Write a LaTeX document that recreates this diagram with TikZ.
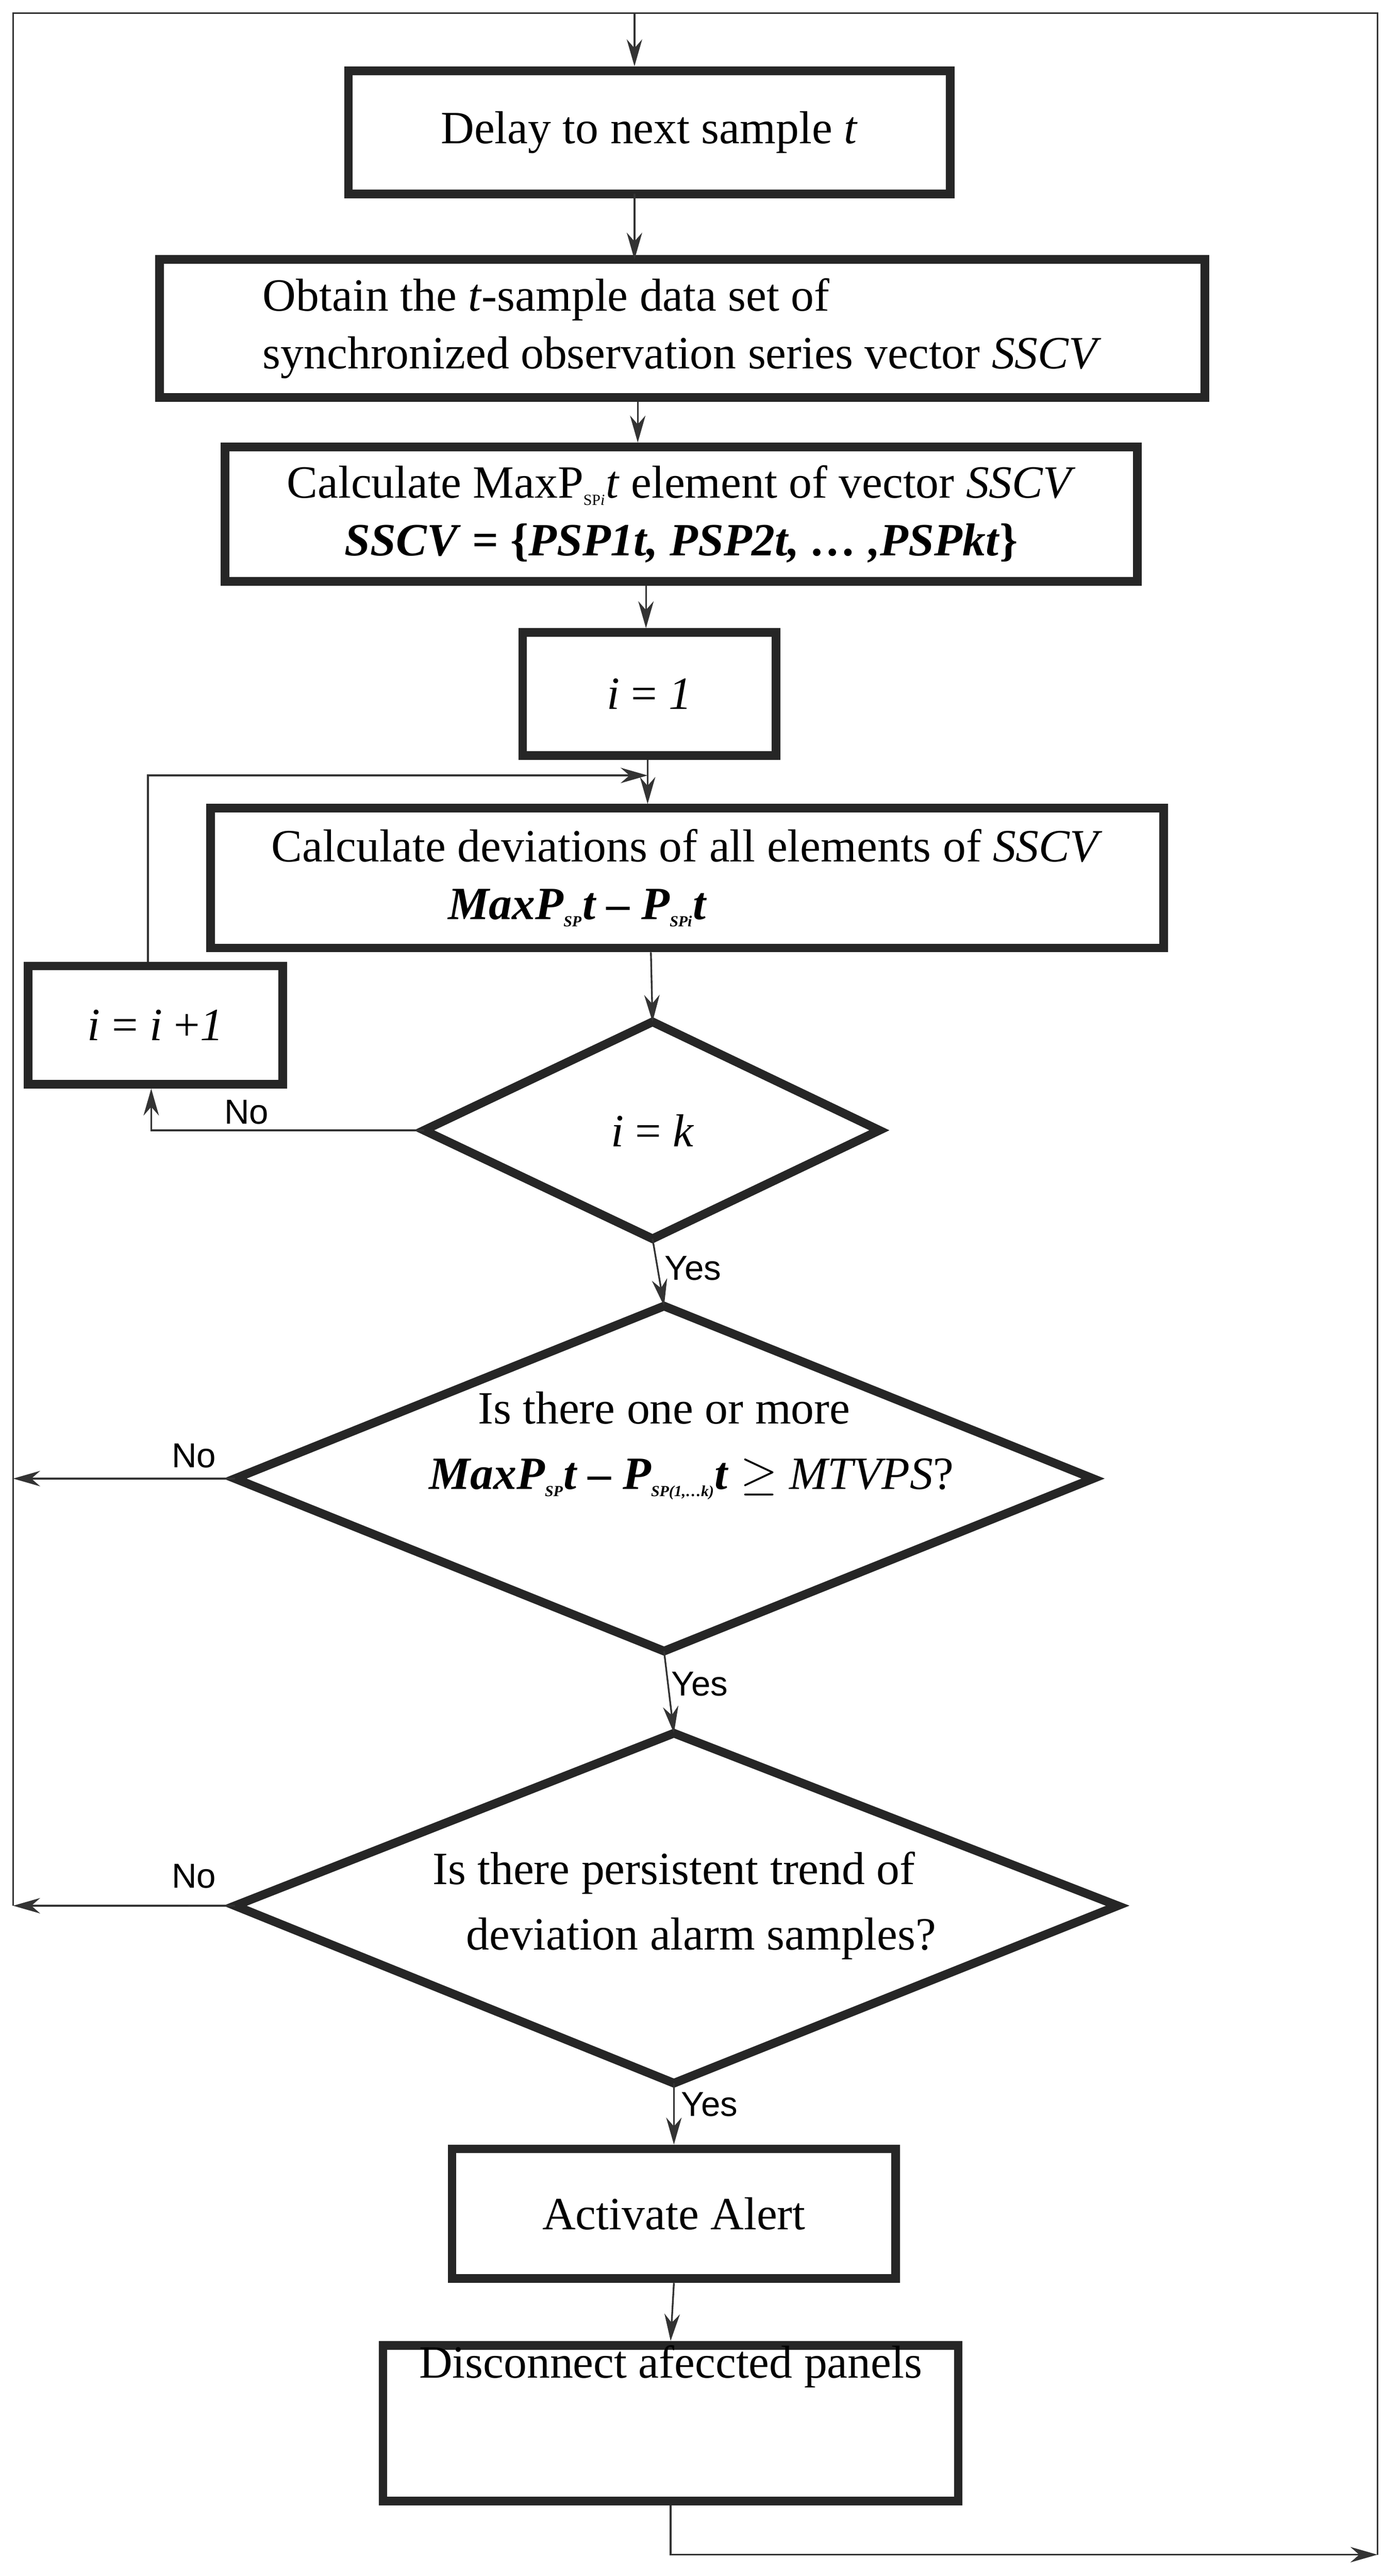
\documentclass[tikz,border=0pt]{standalone}
\usepackage{fontspec}
\setmainfont{Liberation Serif}
\newfontfamily\sff{Liberation Sans}
\usetikzlibrary{arrows.meta}
\newcommand{\mysub}[1]{\textsubscript{\footnotesize #1}}
\begin{document}
\begin{tikzpicture}[x=0.03cm,y=-0.03cm,
  box/.style={draw=black!85,line width=4.5pt,minimum width=#1,inner sep=0pt,font=\fontsize{24}{30}\selectfont,align=center},
  dia/.style={draw=black!85,line width=4.5pt,line join=miter},
  txt/.style={font=\fontsize{24}{34}\selectfont,align=center,inner sep=0pt},
  lab/.style={font=\sff\fontsize{18}{20}\selectfont,inner sep=1pt},
  con/.style={line width=0.9pt,draw=black!80},
  arr/.style={con,-{Stealth[length=14pt,width=8pt]}}]
\useasboundingbox (0,0) rectangle (842,1568);
% boxes
\node[box=366*0.03cm,minimum height=75*0.03cm] (b1) at (395,80.5) {Delay to next sample \textit{t}};
\node[box=636*0.03cm,minimum height=84*0.03cm,align=left] (b2) at (415,200) {Obtain the \textit{t}-sample data set of\\synchronized observation series vector \textit{SSCV}};
\node[box=555*0.03cm,minimum height=82*0.03cm] (b3) at (414.5,313) {Calculate MaxP\mysub{SP\textit{i}}\textit{t} element of vector \textit{SSCV}\\\textbf{\textit{SSCV} = \{\textit{PSP1t, PSP2t, \dots\ ,PSPkt}\}}};
\node[box=154*0.03cm,minimum height=75*0.03cm] (b4) at (395,422.5) {\textit{i} = \textit{1}};
\node[box=580*0.03cm,minimum height=85*0.03cm] (b5) at (418,534.5) {Calculate deviations of all elements of \textit{SSCV}\\\textbf{\textit{MaxP\mysub{SP}t -- P\mysub{SPi}t}}\hspace*{4cm}};
\node[box=155*0.03cm,minimum height=72*0.03cm] (b6) at (94.5,624) {\textit{i} = \textit{i} +\textit{1}};
\node[box=270*0.03cm,minimum height=79*0.03cm] (b7) at (410,1347.5) {Activate Alert};
\node[box=350*0.03cm,minimum height=80*0.03cm] (b8) at (408,1475) {Disconnect afeccted panels\\[1.2cm]};
% diamonds
\coordinate (d1t) at (397,622); \coordinate (d1b) at (397,754);
\coordinate (d1l) at (258,688); \coordinate (d1r) at (535,688);
\draw[dia] (d1t)--(d1r)--(d1b)--(d1l)--cycle;
\node[txt] (d1) at (397,688) {\textit{i} = \textit{k}};
\coordinate (d2t) at (404,795); \coordinate (d2b) at (404,1005);
\coordinate (d2l) at (143,900); \coordinate (d2r) at (665,900);
\draw[dia] (d2t)--(d2r)--(d2b)--(d2l)--cycle;
\node[txt] (d2) at (404,880) {Is there one or more\\\hspace*{1cm}\textbf{\textit{MaxP\mysub{SP}t -- P\mysub{SP(1,\dots k)}t}} $\geq$ \textit{MTVPS}?};
\coordinate (d3t) at (410,1055); \coordinate (d3b) at (410,1268);
\coordinate (d3l) at (143,1160); \coordinate (d3r) at (680,1160);
\draw[dia] (d3t)--(d3r)--(d3b)--(d3l)--cycle;
\node[txt] (d3) at (410,1160) {Is there persistent trend of\\\hspace*{1cm}deviation alarm samples?};
% frame
\coordinate (ftl) at (8,8); \coordinate (ftr) at (838,8);
\coordinate (fin) at (386,8);
\coordinate (n2) at (8,900); \coordinate (n3) at (8,1160);
\coordinate (fbr) at (838,1555); \coordinate (fbl) at (408,1555);
\draw[con] (n3) -- (ftl) -- (ftr) -- (fbr);
\draw[arr] (fin) -- (fin |- b1.north);
\draw[arr] (386,118) -- (386,158);
\draw[arr] (b2.south -| 388,0) -- (b3.north -| 388,0);
\draw[arr] (b3.south -| 393,0) -- (b4.north -| 393,0);
\draw[arr] (b4.south -| 394,0) -- (b5.north -| 394,0);
\draw[arr] (b6.north -| 90,0) -- (90,472) -- (394,472);
\draw[arr] (b5.south -| 396,0) -- (d1t);
\draw[arr] (d1l) -- (92,688) -- (b6.south -| 92,0);
\node[lab] at (150,677) {No};
\draw[arr] (d1b) -- (d2t |- 0,795);
\node[lab,anchor=west] at (403,772) {Yes};
\draw[arr] (d2l) -- (n2);
\node[lab] at (118,886) {No};
\draw[arr] (d2b) -- (d3t);
\node[lab,anchor=west] at (407,1025) {Yes};
\draw[arr] (d3l) -- (n3);
\node[lab] at (118,1142) {No};
\draw[arr] (d3b) -- (b7.north);
\node[lab,anchor=west] at (413,1281) {Yes};
\draw[arr] (b7.south) -- (b8.north);
\draw[arr] (b8.south) -- (fbl) -- (fbr);
\end{tikzpicture}
\end{document}
